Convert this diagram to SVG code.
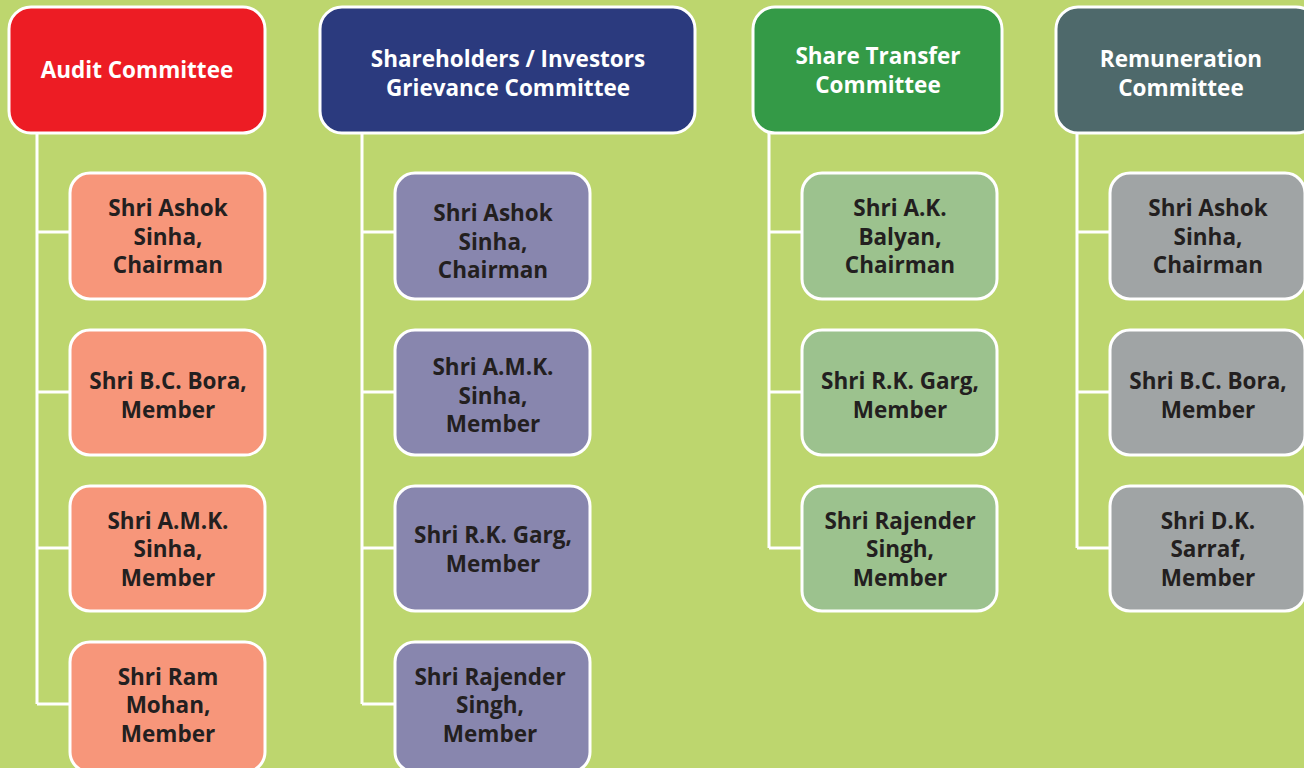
<svg xmlns="http://www.w3.org/2000/svg" width="1304" height="768" viewBox="0 0 1304 768">
<style>
.bg{fill:#BDD66E}
.hd{stroke:#fff;stroke-width:3}
.ch{stroke:#fff;stroke-width:3}
.ht{font-family:"Open Sans","Noto Sans",sans-serif;font-weight:700;font-size:22.5px;fill:#fff;text-anchor:middle}
.ct{font-family:"Open Sans","Noto Sans",sans-serif;font-weight:700;font-size:22.5px;fill:#231F20;text-anchor:middle}
.ln{stroke:#fff;stroke-width:3;fill:none}
.a{fill:#F7967A}.s{fill:#8886AE}.t{fill:#9CC28E}.r{fill:#A0A4A5}
</style>
<rect class="bg" x="0" y="0" width="1304" height="768"/>
<g id="connectors">
<path class="ln" d="M37 133V704M37 232H70M37 392H70M37 548H70M37 704H70"/>
<path class="ln" d="M362 133V704M362 232H395M362 392H395M362 548H395M362 704H395"/>
<path class="ln" d="M769 133V548M769 232H802M769 392H802M769 548H802"/>
<path class="ln" d="M1077 133V548M1077 232H1110M1077 392H1110M1077 548H1110"/>
</g>
<g id="audit-committee"><rect class="hd" x="9" y="7" width="256" height="126" rx="22" fill="#ED1C24"/><text class="ht" x="137" y="78">Audit Committee</text></g>
<g id="shareholders-committee"><rect class="hd" x="320" y="7" width="375" height="126" rx="22" fill="#2B3A7E"/><text class="ht" x="508" y="67">Shareholders / Investors</text><text class="ht" x="508" y="96">Grievance Committee</text></g>
<g id="share-transfer-committee"><rect class="hd" x="753" y="7" width="249" height="126" rx="22" fill="#349A47"/><text class="ht" x="878" y="64">Share Transfer</text><text class="ht" x="878" y="93">Committee</text></g>
<g id="remuneration-committee"><rect class="hd" x="1056" y="7" width="262" height="126" rx="22" fill="#4E696B"/><text class="ht" x="1181" y="67">Remuneration</text><text class="ht" x="1181" y="96">Committee</text></g>

<g id="a1"><rect class="ch a" x="70" y="173" width="195" height="126" rx="20"/><text class="ct" x="168" y="216">Shri Ashok</text><text class="ct" x="168" y="245">Sinha,</text><text class="ct" x="168" y="273">Chairman</text></g>
<g id="a2"><rect class="ch a" x="70" y="330" width="195" height="125" rx="20"/><text class="ct" x="168" y="389">Shri B.C. Bora,</text><text class="ct" x="168" y="418">Member</text></g>
<g id="a3"><rect class="ch a" x="70" y="486" width="195" height="125" rx="20"/><text class="ct" x="168" y="529">Shri A.M.K.</text><text class="ct" x="168" y="557">Sinha,</text><text class="ct" x="168" y="586">Member</text></g>
<g id="a4"><rect class="ch a" x="70" y="642" width="195" height="130" rx="20"/><text class="ct" x="168" y="685">Shri Ram</text><text class="ct" x="168" y="713">Mohan,</text><text class="ct" x="168" y="742">Member</text></g>

<g id="s1"><rect class="ch s" x="395" y="173" width="195" height="126" rx="20"/><text class="ct" x="493" y="221">Shri Ashok</text><text class="ct" x="493" y="250">Sinha,</text><text class="ct" x="493" y="278">Chairman</text></g>
<g id="s2"><rect class="ch s" x="395" y="330" width="195" height="125" rx="20"/><text class="ct" x="493" y="375">Shri A.M.K.</text><text class="ct" x="493" y="404">Sinha,</text><text class="ct" x="493" y="432">Member</text></g>
<g id="s3"><rect class="ch s" x="395" y="486" width="195" height="125" rx="20"/><text class="ct" x="493" y="543">Shri R.K. Garg,</text><text class="ct" x="493" y="572">Member</text></g>
<g id="s4"><rect class="ch s" x="395" y="642" width="195" height="130" rx="20"/><text class="ct" x="490" y="685">Shri Rajender</text><text class="ct" x="490" y="713">Singh,</text><text class="ct" x="490" y="742">Member</text></g>

<g id="t1"><rect class="ch t" x="802" y="173" width="195" height="126" rx="20"/><text class="ct" x="900" y="216">Shri A.K.</text><text class="ct" x="900" y="245">Balyan,</text><text class="ct" x="900" y="273">Chairman</text></g>
<g id="t2"><rect class="ch t" x="802" y="330" width="195" height="125" rx="20"/><text class="ct" x="900" y="389">Shri R.K. Garg,</text><text class="ct" x="900" y="418">Member</text></g>
<g id="t3"><rect class="ch t" x="802" y="486" width="195" height="125" rx="20"/><text class="ct" x="900" y="529">Shri Rajender</text><text class="ct" x="900" y="557">Singh,</text><text class="ct" x="900" y="586">Member</text></g>

<g id="r1"><rect class="ch r" x="1110" y="173" width="195" height="126" rx="20"/><text class="ct" x="1208" y="216">Shri Ashok</text><text class="ct" x="1208" y="245">Sinha,</text><text class="ct" x="1208" y="273">Chairman</text></g>
<g id="r2"><rect class="ch r" x="1110" y="330" width="195" height="125" rx="20"/><text class="ct" x="1208" y="389">Shri B.C. Bora,</text><text class="ct" x="1208" y="418">Member</text></g>
<g id="r3"><rect class="ch r" x="1110" y="486" width="195" height="125" rx="20"/><text class="ct" x="1208" y="529">Shri D.K.</text><text class="ct" x="1208" y="557">Sarraf,</text><text class="ct" x="1208" y="586">Member</text></g>
</svg>
